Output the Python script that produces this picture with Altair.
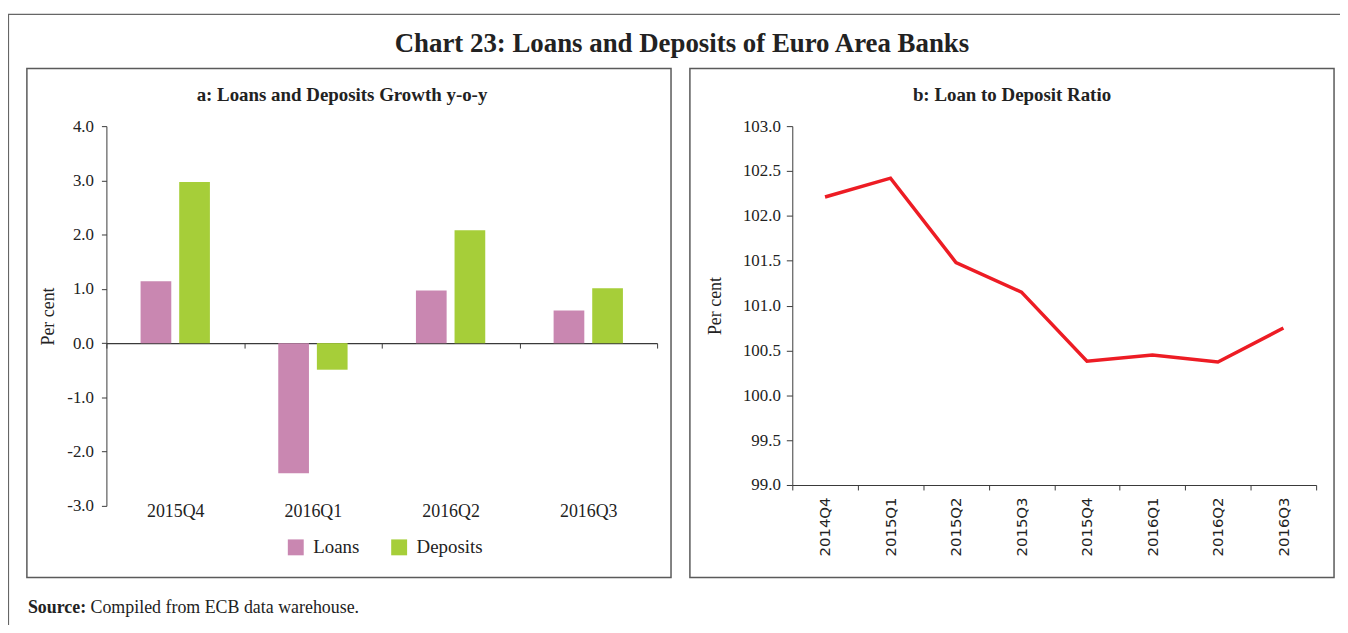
import altair as alt
import pandas as pd

# ---------------- data ----------------
quarters_a = ["2015Q4", "2016Q1", "2016Q2", "2016Q3"]
series_names = ["Loans", "Deposits"]
loans = [1.14, -2.40, 0.97, 0.60]
deposits = [2.97, -0.49, 2.08, 1.01]
y_ticks_a = [-3, -2, -1, 0, 1, 2, 3, 4]

quarters_b = ["2014Q4", "2015Q1", "2015Q2", "2015Q3",
              "2015Q4", "2016Q1", "2016Q2", "2016Q3"]
ratio = [102.21, 102.42, 101.48, 101.15, 100.38, 100.45, 100.37, 100.75]
y_ticks_b = [99.0, 99.5, 100.0, 100.5, 101.0, 101.5, 102.0, 102.5, 103.0]

main_title = ["Chart 23: Loans and Deposits of Euro Area Banks"]
panel_a_title = ["a: Loans and Deposits Growth y-o-y"]
panel_b_title = ["b: Loan to Deposit Ratio"]
source_bold = ["Source:"]
source_text = ["Compiled from ECB data warehouse."]
y_title = "Per cent"

PINK = "#C987B1"
GREEN = "#A6CE39"
RED = "#ED1C24"
SERIF = "Liberation Serif"
SANS = "DejaVu Sans"
TXT = "#222222"
AX = "#3a3a3a"
FRAME = "#5a5a5a"

W, H = 1217, 382          # overall plot area (left panel plot + right panel plot)
WA = 554                  # left panel plot width
XB0, XB1 = 690, 1217      # right panel plot x range
HB = 361                  # right panel plot height

rows = []
for q, l, d in zip(quarters_a, loans, deposits):
    rows.append({"quarter": q, "series": "Loans", "value": l})
    rows.append({"quarter": q, "series": "Deposits", "value": d})
df_a = pd.DataFrame(rows)
df_b = pd.DataFrame({"quarter": quarters_b, "ratio": ratio})

zero_offset = -(H - H * 4 / 7)

neg_label = "(datum.value < 0 ? '-' : '') + format(abs(datum.value), '.1f')"

bars = alt.Chart(df_a).mark_bar().encode(
    x=alt.X("quarter:N", sort=quarters_a,
            scale=alt.Scale(type="band", range=[0, WA], paddingInner=0, paddingOuter=0),
            axis=alt.Axis(title=None, orient="bottom", offset=zero_offset,
                          tickBand="extent", tickSize=5, tickColor=AX,
                          domainColor=AX, domainWidth=1.2,
                          labelPadding=155, labelAngle=0,
                          labelFont=SERIF, labelFontSize=18, labelColor=TXT)),
    xOffset=alt.XOffset("series:N", sort=series_names,
                        scale=alt.Scale(paddingInner=0.205, paddingOuter=0.885)),
    y=alt.Y("value:Q",
            scale=alt.Scale(domain=[-3, 4], nice=False, zero=False),
            axis=alt.Axis(values=y_ticks_a, labelExpr=neg_label, orient="left",
                          title=y_title, titleFont=SERIF, titleFontSize=18,
                          titleFontWeight="normal", titleColor=TXT, titleX=-49,
                          tickSize=5, tickColor=AX, domainColor=AX,
                          labelPadding=8, labelFont=SERIF, labelFontSize=17,
                          labelColor=TXT, grid=False)),
    color=alt.Color("series:N", sort=series_names,
                    scale=alt.Scale(domain=series_names, range=[PINK, GREEN]),
                    legend=alt.Legend(title=None, orient="none", legendX=181,
                                      legendY=414, direction="horizontal",
                                      symbolType="square", symbolSize=256,
                                      symbolStrokeWidth=0, labelFont=SERIF,
                                      labelFontSize=19, labelColor=TXT,
                                      labelOffset=8, columnPadding=30)),
)

line = alt.Chart(df_b).mark_line(color=RED, strokeWidth=3.5).encode(
    x=alt.X("quarter:N", sort=quarters_b, bandPosition=0.5,
            scale=alt.Scale(type="band", range=[XB0, XB1], paddingInner=0, paddingOuter=0),
            axis=alt.Axis(title=None, orient="bottom", offset=-(H - HB),
                          tickBand="extent", tickSize=5, tickColor=AX,
                          domainColor=AX, domainWidth=1.2,
                          labelAngle=-90, labelAlign="right", labelBaseline="middle",
                          labelPadding=7, labelFont=SANS, labelFontSize=15,
                          labelColor=TXT)),
    y=alt.Y("ratio:Q",
            scale=alt.Scale(domain=[99, 103], nice=False, zero=False, range=[HB, 0]),
            axis=alt.Axis(values=y_ticks_b, format=".1f", orient="left",
                          offset=-XB0, title=y_title, titleFont=SERIF,
                          titleFontSize=18, titleFontWeight="normal",
                          titleColor=TXT, titleX=-68,
                          tickSize=6, tickColor=AX, domainColor=AX,
                          labelPadding=6, labelFont=SERIF, labelFontSize=17,
                          labelColor=TXT, grid=False)),
)

one = pd.DataFrame({"k": [0]})


def frame(x1, x2, y1, y2, width=1.5, color=FRAME):
    return alt.Chart(one).mark_rect(fill=None, stroke=color, strokeWidth=width).encode(
        x=alt.value(x1), x2=alt.value(x2), y=alt.value(y1), y2=alt.value(y2))


def text(lines, x, y, size, weight="normal", align="center", font=SERIF):
    return alt.Chart(pd.DataFrame({"t": lines})).mark_text(
        font=font, fontSize=size, fontWeight=weight, align=align,
        baseline="middle", color=TXT).encode(
        text="t:N", x=alt.value(x), y=alt.value(y))


outer = frame(-98.5, 1260, -112.5, 560, width=1.2, color="#666666")
frame_a = frame(-80, 568, -58, 454)
frame_b = frame(587, 1235, -58, 454)

t_main = text(main_title, 579, -83, 27, weight="bold")
t_a = text(panel_a_title, 237, -31, 19, weight="bold")
t_b = text(panel_b_title, 911, -31, 19, weight="bold")
t_src1 = text(source_bold, -79, 485, 18, weight="bold", align="left")
t_src2 = text(source_text, -16, 485, 18, align="left")

chart = alt.layer(
    outer, frame_a, frame_b, bars, line, t_main, t_a, t_b, t_src1, t_src2
).resolve_scale(
    x="independent", y="independent"
).resolve_axis(
    x="independent", y="independent"
).properties(
    width=W, height=H,
    background="white",
    autosize=alt.AutoSizeParams(type="none"),
    padding={"left": 99, "top": 117, "right": 24, "bottom": 118},
).configure_view(stroke=None)

chart.save("out.html", embed_options={"renderer": "svg", "actions": False})
